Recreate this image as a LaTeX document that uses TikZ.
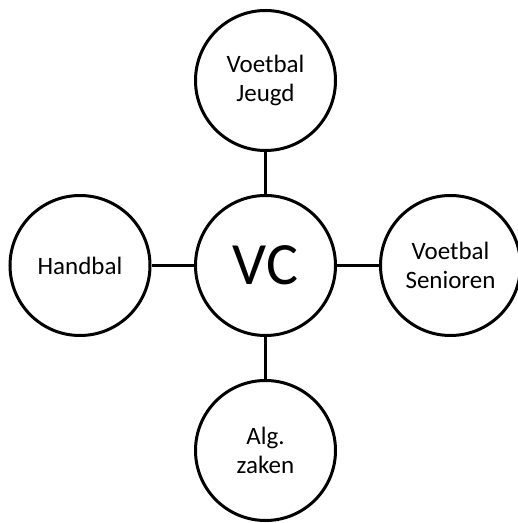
\documentclass[tikz,border=0pt]{standalone}
\usepackage{fontspec}
\setmainfont{Carlito}
\begin{document}
\begin{tikzpicture}[x=1pt,y=1pt,
  bubble/.style={circle, draw=black, line width=3pt, minimum size=140pt, inner sep=0pt, fill=white, align=center,
    font=\fontsize{25}{29}\selectfont},
  hub/.style={bubble, font=\fontsize{60}{66}\selectfont},
  link/.style={draw=black, line width=3pt}]
\useasboundingbox (0,0) rectangle (518,523);
\node[hub] (vc) at (265.5,257.5) {VC};
\node[bubble] (jeugd) at (265.5,442.5) {Voetbal\\Jeugd};
\node[bubble] (hand) at (80,257.5) {Handbal};
\node[bubble] (sen) at (450.5,257.5) {Voetbal\\Senioren};
\node[bubble] (alg) at (265.5,72.5) {Alg.\\zaken};
\draw[link] (vc) -- (jeugd);
\draw[link] (vc) -- (hand);
\draw[link] (vc) -- (sen);
\draw[link] (vc) -- (alg);
\end{tikzpicture}
\end{document}
